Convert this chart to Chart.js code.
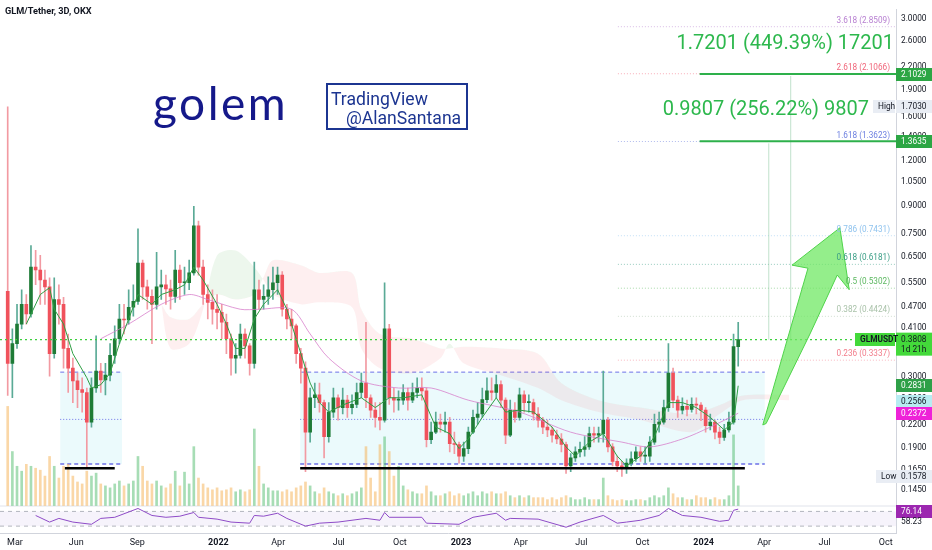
<!DOCTYPE html>
<html>
<head>
<meta charset="utf-8">
<script src="https://cdn.jsdelivr.net/npm/chart.js"></script>
<style>
  html, body { margin: 0; padding: 0; background: #fff; overflow: hidden; }
  canvas { display: block; }
</style>
</head>
<body>
<canvas id="chart" width="932" height="550"></canvas>
<script>
const firstDay = 48;      // days since 2021-01-01 of the first candle
const stepDays = 7;
const firstOpen = 0.52;

const closes = [
  0.327,0.371,0.421,0.478,0.449,0.607,0.596,0.559,0.535,0.348,
  0.493,0.478,0.360,0.317,0.292,0.276,0.271,0.224,0.279,0.311,
  0.294,0.303,0.344,0.383,0.435,0.432,0.469,0.487,0.623,0.535,
  0.503,0.478,0.535,0.542,0.528,0.503,0.596,0.549,0.549,0.585,
  0.792,0.607,0.509,0.484,0.463,0.454,0.426,0.383,0.338,0.344,
  0.395,0.366,0.327,0.525,0.493,0.503,0.525,0.549,0.577,0.463,
  0.435,0.416,0.348,0.317,0.210,0.262,0.267,0.254,0.204,0.239,
  0.262,0.246,0.258,0.246,0.251,0.271,0.288,0.262,0.242,0.231,
  0.227,0.408,0.262,0.258,0.258,0.271,0.258,0.271,0.279,0.274,
  0.200,0.210,0.224,0.221,0.224,0.195,0.194,0.180,0.189,0.210,
  0.231,0.236,0.259,0.274,0.271,0.285,0.258,0.206,0.242,0.231,
  0.267,0.254,0.254,0.236,0.227,0.217,0.213,0.206,0.201,0.194,
  0.169,0.178,0.185,0.188,0.191,0.208,0.206,0.208,0.227,0.191,
  0.174,0.169,0.166,0.172,0.177,0.185,0.180,0.180,0.197,0.221,
  0.224,0.246,0.307,0.258,0.242,0.248,0.243,0.251,0.250,0.242,
  0.219,0.224,0.210,0.203,0.213,0.224,0.364,0.381
];
const highs = [
  1.703,0.408,0.478,0.525,0.509,0.698,0.676,0.655,0.596,0.567,
  0.567,0.542,0.500,0.395,0.338,0.307,0.298,0.279,0.298,0.390,
  0.327,0.327,0.371,0.416,0.478,0.478,0.525,0.542,0.777,0.635,
  0.559,0.525,0.668,0.596,0.577,0.559,0.676,0.615,0.607,0.635,
  0.898,0.817,0.635,0.542,0.525,0.509,0.478,0.449,0.395,0.371,
  0.421,0.408,0.371,0.627,0.559,0.542,0.570,0.607,0.607,0.590,
  0.478,0.463,0.421,0.360,0.330,0.279,0.288,0.288,0.258,0.254,
  0.279,0.267,0.279,0.266,0.267,0.288,0.307,0.426,0.267,0.254,
  0.254,0.549,0.420,0.279,0.274,0.285,0.279,0.288,0.298,0.298,
  0.279,0.224,0.239,0.236,0.239,0.231,0.210,0.197,0.197,0.217,
  0.242,0.254,0.279,0.298,0.298,0.303,0.292,0.262,0.258,0.254,
  0.279,0.274,0.267,0.260,0.246,0.231,0.227,0.217,0.213,0.208,
  0.197,0.183,0.191,0.197,0.204,0.217,0.217,0.217,0.311,0.231,
  0.195,0.180,0.174,0.177,0.185,0.191,0.191,0.191,0.204,0.236,
  0.239,0.258,0.371,0.317,0.265,0.262,0.258,0.262,0.262,0.254,
  0.246,0.236,0.227,0.217,0.221,0.239,0.395,0.426
];
const lows = [
  0.266,0.262,0.360,0.408,0.421,0.440,0.542,0.478,0.478,0.301,
  0.338,0.421,0.317,0.271,0.254,0.246,0.239,0.168,0.217,0.271,
  0.271,0.267,0.292,0.327,0.371,0.395,0.421,0.443,0.478,0.493,
  0.463,0.371,0.463,0.493,0.478,0.463,0.484,0.493,0.509,0.525,
  0.577,0.577,0.478,0.435,0.421,0.408,0.383,0.348,0.303,0.307,
  0.338,0.338,0.303,0.317,0.463,0.463,0.478,0.493,0.509,0.443,
  0.408,0.383,0.327,0.288,0.163,0.197,0.246,0.239,0.178,0.197,
  0.231,0.227,0.236,0.231,0.236,0.246,0.262,0.246,0.231,0.217,
  0.213,0.224,0.251,0.239,0.242,0.251,0.242,0.254,0.262,0.258,
  0.191,0.195,0.208,0.210,0.210,0.185,0.183,0.172,0.174,0.183,
  0.208,0.221,0.231,0.254,0.258,0.262,0.246,0.195,0.204,0.224,
  0.227,0.239,0.239,0.227,0.217,0.208,0.204,0.197,0.195,0.185,
  0.161,0.163,0.174,0.179,0.180,0.188,0.197,0.197,0.197,0.185,
  0.169,0.163,0.158,0.161,0.169,0.174,0.174,0.172,0.174,0.194,
  0.210,0.221,0.240,0.246,0.231,0.236,0.233,0.239,0.236,0.226,
  0.210,0.213,0.201,0.195,0.199,0.210,0.221,0.321
];
const volumes = [
  101,55,40,35,42,40,38,36,30,50,
  40,28,40,42,30,24,22,35,30,33,
  22,20,18,22,25,20,22,25,50,40,
  25,22,25,20,18,22,35,20,34,22,
  60,28,22,18,16,18,15,16,18,14,
  16,14,16,78,40,22,18,15,15,14,
  16,14,18,20,24,20,14,12,18,14,
  12,10,12,10,12,14,18,60,28,14,
  62,70,55,30,40,20,16,14,12,12,
  20,14,10,10,12,14,10,12,10,12,
  14,10,14,12,14,12,12,14,10,8,
  10,8,10,8,8,8,6,8,6,8,
  10,8,6,6,8,6,6,6,28,10,
  6,5,6,5,5,6,6,5,8,10,
  8,10,18,12,8,8,6,6,10,8,
  8,6,8,6,6,10,72,20
];

// [candle index, value]
const emaFast = [
  [4,0.421],[7,0.509],[9,0.532],[10,0.463],[12,0.421],[14,0.348],[17,0.298],[18,0.279],
  [20,0.285],[22,0.307],[24,0.371],[26,0.435],[28,0.509],[31,0.478],[33,0.509],[36,0.525],
  [38,0.542],[40,0.607],[42,0.559],[45,0.478],[47,0.421],[49,0.360],[51,0.360],[53,0.435],
  [55,0.478],[58,0.525],[60,0.463],[62,0.383],[65,0.288],[67,0.254],[69,0.239],[72,0.250],
  [76,0.262],[79,0.246],[82,0.262],[85,0.262],[89,0.267],[92,0.217],[95,0.208],[97,0.189],
  [99,0.201],[102,0.231],[105,0.262],[107,0.239],[110,0.242],[113,0.239],[117,0.217],[120,0.191],
  [122,0.180],[125,0.197],[128,0.208],[131,0.180],[133,0.169],[136,0.180],[139,0.204],[142,0.254],
  [145,0.254],[148,0.246],[151,0.231],[154,0.213],[156,0.224],[157,0.2831]
];
const maSlow = [
  [20,0.383],[26,0.421],[33,0.478],[39,0.509],[43,0.493],[50,0.463],[54,0.463],[61,0.463],
  [65,0.395],[69,0.338],[76,0.292],[84,0.279],[91,0.279],[99,0.258],[110,0.239],[121,0.210],
  [132,0.197],[138,0.191],[145,0.201],[151,0.217],[157,0.2372]
];
const cloudIdx = [33,35,39,42,45,49,53,55,57,63,67,74,76,80,87,93,95,98,106,114,119,127,136,147,153,158,168];
const cloudA = [0.478,0.360,0.371,0.463,0.655,0.676,0.607,0.559,0.509,0.478,0.484,0.469,0.360,0.317,0.307,0.338,0.371,0.327,0.303,0.279,0.258,0.239,0.227,0.210,0.236,0.258,0.258];
const cloudB = [0.478,0.440,0.435,0.478,0.509,0.493,0.509,0.570,0.635,0.615,0.585,0.585,0.463,0.395,0.383,0.360,0.360,0.364,0.360,0.348,0.288,0.258,0.246,0.236,0.250,0.266,0.267];
const rsi = [
  [6,59],[9,41],[11,51],[14,41],[18,35],[20,51],[23,54],[28,78],[31,59],[34,54],[37,57],
  [40,67],[41,54],[45,49],[48,41],[52,38],[53,59],[55,57],[58,65],[60,51],[64,30],[67,38],
  [71,41],[77,51],[80,46],[81,67],[82,54],[89,54],[90,38],[97,35],[100,54],[105,65],[107,46],
  [108,51],[114,49],[120,27],[123,41],[128,59],[131,38],[133,41],[136,46],[140,59],[142,78],
  [145,59],[149,54],[153,43],[155,46],[156,73],[157,76.14]
];

const tickDates = ['2021-03-01','2021-06-01','2021-09-01','2022-01-01','2022-04-01','2022-07-01','2022-10-01',
  '2023-01-01','2023-04-01','2023-07-01','2023-10-01','2024-01-01','2024-04-01','2024-07-01','2024-10-01'];
const tickLabels = ['Mar','Jun','Sep','2022','Apr','Jul','Oct','2023','Apr','Jul','Oct','2024','Apr','Jul','Oct'];
const priceTicks = [0.145,0.165,0.19,0.22,0.26,0.3,0.35,0.41,0.47,0.55,0.65,0.75,0.9,1.05,1.2,1.4,1.6,1.9,2.2,2.6,3.0];

const fibLevels = ['3.618','2.618','1.618','0.786','0.618','0.5','0.382','0.236'];
const fibPrices = [2.8509,2.1066,1.3623,0.7431,0.6181,0.5302,0.4424,0.3337];
const fibColors = ['#b77fd1','#f0667a','#6c7fe0','#8fc3ee','#3a9e86','#5cb860','#a9c2a9','#f27c8a'];

const targetPrices = [2.1029, 1.3635];
const targetTexts = ['1.7201 (449.39%) 17201', '0.9807 (256.22%) 9807'];
const lastPrice = 0.3808;

// ── Drawings (in date / price space) ─────────────────────
const rangeBoxes = [
  { from: 127, to: 220, top: 0.309, mid: 0.228, bottom: 0.171 },
  { from: 488, to: 1187, top: 0.309, mid: 0.228, bottom: 0.171 },
];
const supports = [{ from: 134, to: 209, price: 0.1665 }, { from: 488, to: 1157, price: 0.1665 }];
const arrowPts = [[1184,0.220],[1217,0.360],[1252,0.603],[1228,0.615],[1300,0.782],[1314,0.525],[1296,0.577],[1255,0.395],[1189,0.222]];

const FONT = 'Roboto, "Liberation Sans", sans-serif';
const AXIS_PX = 8.3;
const dayOf = s => (Date.UTC(+s.slice(0, 4), +s.slice(5, 7) - 1, +s.slice(8, 10)) - Date.UTC(2021, 0, 1)) / 864e5;
const candleDay = i => firstDay + stepDays * i;
const opens = closes.map((c, i) => i === 0 ? firstOpen : closes[i - 1]);
const isUp = i => closes[i] >= opens[i];
const pairs = arr => arr.map(([i, v]) => ({ x: candleDay(i), y: v }));

// ── Overlay plugin ───────────────────────────────────────
function hline(ctx, x0, x1, yy) { ctx.beginPath(); ctx.moveTo(x0, yy); ctx.lineTo(x1, yy); ctx.stroke(); }
function vline(ctx, xx, y0, y1) { ctx.beginPath(); ctx.moveTo(xx, y0); ctx.lineTo(xx, y1); ctx.stroke(); }

const overlay = {
    id: 'overlay',
    beforeDatasetsDraw(chart) {
        const { ctx, chartArea: a, scales: { x, y, yr } } = chart;
        const X = v => x.getPixelForValue(v), Y = v => y.getPixelForValue(v);
        ctx.save();
        // range boxes
        rangeBoxes.forEach(b => {
            const x0 = X(b.from), x1 = X(b.to), yt = Y(b.top), ym = Y(b.mid), yb = Y(b.bottom);
            ctx.fillStyle = 'rgba(0,188,212,0.08)';
            ctx.fillRect(x0, yt, x1 - x0, yb - yt);
            ctx.strokeStyle = '#6d72e8';
            ctx.lineWidth = 1;
            ctx.setLineDash([4, 3]);
            hline(ctx, x0, x1, yt);
            ctx.lineWidth = 1.5;
            hline(ctx, x0, x1, yb);
            ctx.lineWidth = 1;
            ctx.setLineDash([1, 2]);
            hline(ctx, x0, x1, ym);
        });
        // fib lines
        ctx.setLineDash([1, 2]);
        fibPrices.forEach((p, i) => {
            ctx.strokeStyle = fibColors[i] + '88';
            hline(ctx, X(966), a.right, Y(p));
        });
        // RSI band
        ctx.setLineDash([]);
        ctx.fillStyle = 'rgba(126,87,194,0.07)';
        ctx.fillRect(a.left, yr.getPixelForValue(70), a.right - a.left, yr.getPixelForValue(30) - yr.getPixelForValue(70));
        ctx.strokeStyle = '#b2b5be';
        ctx.setLineDash([4, 4]);
        hline(ctx, a.left, a.right, yr.getPixelForValue(70));
        hline(ctx, a.left, a.right, yr.getPixelForValue(30));
        ctx.setLineDash([]);
        ctx.strokeStyle = '#e0e3eb';
        hline(ctx, a.left, a.right, y.bottom + 0.5);
        ctx.restore();
    },
    afterDatasetsDraw(chart) {
        const { ctx, chartArea: a, scales: { x, y } } = chart;
        const X = v => x.getPixelForValue(v), Y = v => y.getPixelForValue(v);
        ctx.save();
        // current price line
        ctx.strokeStyle = '#3ccf3c';
        ctx.lineWidth = 1.2;
        ctx.setLineDash([2, 3]);
        hline(ctx, a.left, 855, Y(lastPrice));
        ctx.setLineDash([]);
        // supports
        ctx.strokeStyle = '#000';
        ctx.lineWidth = 2.5;
        supports.forEach(s => hline(ctx, X(s.from), X(s.to), Y(s.price)));
        // measure lines
        ctx.strokeStyle = 'rgba(140,200,160,0.55)';
        ctx.lineWidth = 1;
        vline(ctx, X(1193), Y(lastPrice), Y(targetPrices[1]) + 2);
        vline(ctx, X(1226), Y(lastPrice), Y(targetPrices[0]) + 2);
        // target lines
        ctx.strokeStyle = '#2eb04b';
        ctx.lineWidth = 2;
        targetPrices.forEach(p => hline(ctx, X(1089), a.right, Y(p)));
        // arrow
        ctx.beginPath();
        arrowPts.forEach(([d, p], i) => i ? ctx.lineTo(X(d), Y(p)) : ctx.moveTo(X(d), Y(p)));
        ctx.closePath();
        ctx.fillStyle = 'rgba(112,232,100,0.75)';
        ctx.fill();
        ctx.strokeStyle = '#4fd34a';
        ctx.lineWidth = 1;
        ctx.stroke();
        // fib labels
        ctx.font = '8.2px ' + FONT;
        ctx.textAlign = 'right';
        ctx.textBaseline = 'alphabetic';
        fibPrices.forEach((p, i) => {
            ctx.fillStyle = fibColors[i];
            ctx.fillText(`${fibLevels[i]} (${p.toFixed(4)})`, 890, Y(p) - 4);
        });
        // target texts
        ctx.font = '20px ' + FONT;
        ctx.fillStyle = '#2db84d';
        ctx.fillText(targetTexts[0], 894, 49);
        ctx.fillText(targetTexts[1], 869, 115);
        // title
        ctx.textAlign = 'left';
        ctx.fillStyle = '#131722';
        ctx.font = 'bold 9.2px ' + FONT;
        ctx.fillText('GLM/Tether, 3D, OKX', 5, 14);
        // golem logo
        ctx.fillStyle = '#15198a';
        ctx.font = '46px Lato, ' + FONT;
        ctx.letterSpacing = '2.5px';
        ctx.fillText('golem', 153, 120);
        ctx.letterSpacing = '0px';
        // TradingView box
        ctx.strokeStyle = '#1c3591';
        ctx.lineWidth = 2;
        ctx.strokeRect(327, 84, 140, 45);
        ctx.fillStyle = '#1c3591';
        ctx.font = '17.6px ' + FONT;
        ctx.fillText('TradingView', 331, 105);
        ctx.fillText('@AlanSantana', 346, 124);
        ctx.restore();
    },
    afterDraw(chart) {
        const { ctx, scales: { y } } = chart;
        const Y = v => y.getPixelForValue(v);
        const L = 896;
        ctx.save();
        ctx.font = AXIS_PX + 'px ' + FONT;
        ctx.textBaseline = 'middle';
        ctx.textAlign = 'left';
        const tag = (yc, text, bg, fg, x0 = L, w = 36, h = 13) => {
            ctx.fillStyle = bg;
            ctx.fillRect(x0, Math.round(yc - h / 2), w, h);
            ctx.fillStyle = fg;
            ctx.fillText(text, x0 + 5, yc + 0.5);
        };
        targetPrices.forEach(p => tag(Y(p), p.toFixed(4), '#2ca644', '#fff'));
        tag(Y(1.703), '1.7030', '#e9edf4', '#131722');
        tag(Y(1.703), 'High', '#e9edf4', '#131722', 873, 22);
        // last price
        ctx.fillStyle = '#43d93a';
        ctx.fillRect(L, Y(lastPrice) - 7, 36, 23);
        ctx.fillStyle = '#131722';
        ctx.fillText(lastPrice.toFixed(4), L + 5, Y(lastPrice));
        ctx.fillText('1d 21h', L + 5, Y(lastPrice) + 10);
        ctx.font = 'bold ' + AXIS_PX + 'px ' + FONT;
        tag(Y(lastPrice), 'GLMUSDT', '#43d93a', '#131722', 855, 40);
        ctx.font = AXIS_PX + 'px ' + FONT;
        tag(Y(0.2831), '0.2831', '#2ea048', '#fff');
        tag(Y(0.2566), '0.2566', '#b7ecf2', '#131722');
        tag(Y(0.2372), '0.2372', '#ee22d8', '#fff');
        tag(Y(0.1578), '0.1578', '#e9edf4', '#131722');
        tag(Y(0.1578), 'Low', '#e9edf4', '#131722', 876, 20);
        tag(511, '76.14', '#9c27b0', '#fff');
        ctx.fillStyle = '#131722';
        ctx.fillText('58.23', L + 5, 522);
        ctx.restore();
    }
};

// ── Chart ────────────────────────────────────────────────
const fixWidth = s => { s.width = 36; };
new Chart(document.getElementById('chart').getContext('2d'), {
    type: 'bar',
    data: {
        datasets: [
            {
                type: 'line', data: pairs(emaFast), borderColor: '#2f9e44', borderWidth: 1,
                pointRadius: 0, yAxisID: 'y', order: 1,
            },
            {
                type: 'line', data: pairs(maSlow), borderColor: 'rgba(214,120,200,0.75)', borderWidth: 1,
                pointRadius: 0, tension: 0.3, yAxisID: 'y', order: 1,
            },
            {
                data: closes.map((c, i) => ({ x: candleDay(i), y: [opens[i], c] })),
                backgroundColor: ctx => isUp(ctx.dataIndex) ? '#1e7b36' : '#f0525c',
                barThickness: 3, minBarLength: 1, grouped: false, yAxisID: 'y', order: 2,
            },
            {
                data: highs.map((h, i) => ({ x: candleDay(i), y: [lows[i], h] })),
                backgroundColor: ctx => isUp(ctx.dataIndex) ? '#5aaa96' : '#f29aa2',
                barThickness: 1, grouped: false, yAxisID: 'y', order: 3,
            },
            {
                data: volumes.map((v, i) => ({ x: candleDay(i), y: v })),
                backgroundColor: ctx => isUp(ctx.dataIndex) ? 'rgba(60,180,90,0.45)' : 'rgba(246,175,80,0.5)',
                barThickness: 2, grouped: false, yAxisID: 'yv', order: 5,
            },
            {
                type: 'line', data: cloudA.map((v, i) => ({ x: candleDay(cloudIdx[i]), y: v })),
                borderColor: 'transparent', borderWidth: 0, pointRadius: 0, tension: 0.3, yAxisID: 'y', order: 6,
                fill: { target: '+1', above: 'rgba(76,175,80,0.10)', below: 'rgba(242,54,69,0.08)' },
            },
            {
                type: 'line', data: cloudB.map((v, i) => ({ x: candleDay(cloudIdx[i]), y: v })),
                borderColor: 'transparent', borderWidth: 0, pointRadius: 0, tension: 0.3, yAxisID: 'y', order: 6, fill: false,
            },
            {
                type: 'line', data: pairs(rsi), borderColor: '#8e4bc7', borderWidth: 1,
                pointRadius: 0, yAxisID: 'yr', order: 1,
            },
        ],
    },
    options: {
        responsive: false,
        animation: false,
        devicePixelRatio: 1,
        layout: { padding: 0 },
        plugins: { legend: { display: false }, tooltip: { enabled: false } },
        scales: {
            x: {
                type: 'linear', min: 36.4, max: 1384.4, offset: false,
                grid: { display: false, drawTicks: false },
                border: { color: '#d1d4dc' },
                afterBuildTicks: s => { s.ticks = tickDates.map(d => ({ value: dayOf(d) })); },
                afterFit: s => { s.height = 17; },
                ticks: {
                    autoSkip: false, maxRotation: 0, padding: 4, color: '#131722',
                    callback: (v, i) => tickLabels[i],
                    font: ctx => ({ size: 9, family: FONT, weight: /^\d{4}$/.test(tickLabels[ctx.index]) ? 'bold' : 'normal' }),
                },
            },
            y: {
                type: 'logarithmic', position: 'right', stack: 'pane', stackWeight: 505,
                min: 0.131, max: 3.175,
                grid: { display: false, drawTicks: false },
                border: { color: '#d1d4dc' },
                afterBuildTicks: s => { s.ticks = priceTicks.map(v => ({ value: v })); },
                afterFit: fixWidth,
                ticks: {
                    autoSkip: false, padding: 5, color: '#131722', font: { size: AXIS_PX, family: FONT },
                    callback: v => Number(v).toFixed(4),
                },
            },
            yr: {
                type: 'linear', position: 'right', stack: 'pane', stackWeight: 28,
                min: 11.3, max: 86,
                grid: { display: false, drawTicks: false },
                border: { color: '#d1d4dc' },
                ticks: { display: false },
                afterFit: fixWidth,
            },
            yv: { type: 'linear', position: 'left', display: false, min: -28, max: 505 },
        },
    },
    plugins: [overlay],
});
</script>
</body>
</html>
